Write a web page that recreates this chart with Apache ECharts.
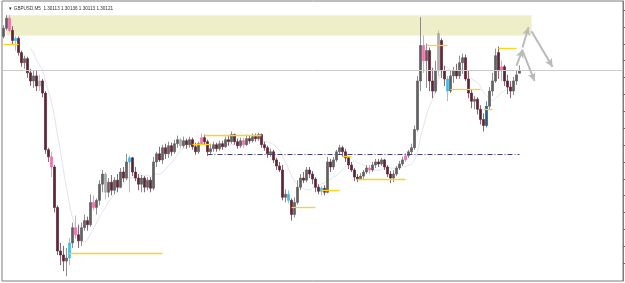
<!DOCTYPE html>
<html lang="en">
<head>
<meta charset="UTF-8">
<title>GBPUSD,M5</title>
<script src="https://cdn.jsdelivr.net/npm/echarts@6/dist/echarts.min.js"></script>
<style>
    html, body { margin: 0; padding: 0; background: #fff; }
    #chart { width: 625px; height: 283px; }
</style>
</head>
<body>
<div id="chart"></div>
<script>
    // bars: [open, close, low, high]
    var bars = [
        [1.30222,1.30246,1.30216,1.30255],[1.30246,1.30276,1.30240,1.30285],[1.30276,1.30240,1.30234,1.30285],[1.30240,1.30210,1.30198,1.30252],
        [1.30210,1.30216,1.30180,1.30222],[1.30216,1.30174,1.30165,1.30222],[1.30174,1.30144,1.30132,1.30180],[1.30144,1.30156,1.30126,1.30165],
        [1.30156,1.30114,1.30099,1.30162],[1.30114,1.30090,1.30075,1.30126],[1.30090,1.30105,1.30069,1.30120],[1.30105,1.30075,1.30060,1.30120],
        [1.30075,1.30090,1.30060,1.30108],[1.30090,1.30054,1.30042,1.30096],[1.30054,1.29886,1.29874,1.30060],[1.29886,1.29865,1.29850,1.29892],
        [1.29865,1.29835,1.29805,1.29880],[1.29835,1.29715,1.29700,1.29841],[1.29715,1.29586,1.29574,1.29721],[1.29586,1.29574,1.29544,1.29610],
        [1.29574,1.29556,1.29526,1.29601],[1.29556,1.29565,1.29511,1.29595],[1.29565,1.29610,1.29544,1.29625],[1.29610,1.29655,1.29595,1.29670],
        [1.29655,1.29634,1.29622,1.29691],[1.29634,1.29616,1.29595,1.29664],[1.29616,1.29655,1.29601,1.29670],[1.29655,1.29676,1.29646,1.29694],
        [1.29676,1.29664,1.29646,1.29688],[1.29664,1.29730,1.29658,1.29754],[1.29730,1.29715,1.29706,1.29751],[1.29715,1.29736,1.29694,1.29742],
        [1.29736,1.29784,1.29721,1.29796],[1.29784,1.29814,1.29760,1.29826],[1.29814,1.29760,1.29739,1.29820],[1.29760,1.29790,1.29745,1.29802],
        [1.29790,1.29766,1.29751,1.29811],[1.29766,1.29796,1.29754,1.29805],[1.29796,1.29775,1.29760,1.29814],[1.29775,1.29820,1.29772,1.29832],
        [1.29820,1.29802,1.29790,1.29835],[1.29802,1.29850,1.29796,1.29874],[1.29850,1.29862,1.29760,1.29868],[1.29862,1.29820,1.29808,1.29865],
        [1.29820,1.29802,1.29793,1.29835],[1.29802,1.29784,1.29766,1.29814],[1.29784,1.29802,1.29760,1.29811],[1.29802,1.29775,1.29760,1.29808],
        [1.29775,1.29796,1.29766,1.29805],[1.29796,1.29772,1.29760,1.29805],[1.29772,1.29850,1.29766,1.29865],[1.29850,1.29874,1.29835,1.29880],
        [1.29874,1.29856,1.29850,1.29895],[1.29856,1.29892,1.29844,1.29901],[1.29892,1.29874,1.29859,1.29904],[1.29874,1.29898,1.29862,1.29910],
        [1.29898,1.29880,1.29868,1.29907],[1.29880,1.29904,1.29874,1.29916],[1.29904,1.29916,1.29892,1.29928],[1.29916,1.29898,1.29889,1.29922],
        [1.29898,1.29913,1.29892,1.29925],[1.29913,1.29901,1.29889,1.29919],[1.29901,1.29916,1.29892,1.29925],[1.29916,1.29895,1.29886,1.29922],
        [1.29895,1.29880,1.29871,1.29907],[1.29880,1.29904,1.29874,1.29910],[1.29904,1.29922,1.29901,1.29934],[1.29922,1.29910,1.29901,1.29931],
        [1.29910,1.29880,1.29868,1.29916],[1.29880,1.29889,1.29871,1.29904],[1.29889,1.29901,1.29880,1.29910],[1.29901,1.29889,1.29880,1.29907],
        [1.29889,1.29904,1.29883,1.29913],[1.29904,1.29895,1.29886,1.29913],[1.29895,1.29916,1.29892,1.29925],[1.29916,1.29910,1.29898,1.29928],
        [1.29910,1.29931,1.29904,1.29940],[1.29931,1.29910,1.29901,1.29934],[1.29910,1.29898,1.29889,1.29919],[1.29898,1.29913,1.29892,1.29922],
        [1.29913,1.29901,1.29892,1.29922],[1.29901,1.29919,1.29898,1.29931],[1.29919,1.29913,1.29904,1.29928],[1.29913,1.29925,1.29907,1.29934],
        [1.29925,1.29919,1.29910,1.29934],[1.29919,1.29931,1.29913,1.29937],[1.29931,1.29901,1.29892,1.29934],[1.29901,1.29892,1.29883,1.29910],
        [1.29892,1.29874,1.29862,1.29898],[1.29874,1.29880,1.29865,1.29889],[1.29880,1.29856,1.29847,1.29886],[1.29856,1.29838,1.29826,1.29862],
        [1.29838,1.29826,1.29820,1.29850],[1.29826,1.29745,1.29736,1.29841],[1.29745,1.29754,1.29730,1.29769],[1.29754,1.29736,1.29727,1.29766],
        [1.29736,1.29694,1.29676,1.29742],[1.29694,1.29730,1.29685,1.29745],[1.29730,1.29775,1.29724,1.29796],[1.29775,1.29802,1.29766,1.29814],
        [1.29802,1.29796,1.29787,1.29820],[1.29796,1.29826,1.29790,1.29835],[1.29826,1.29814,1.29802,1.29835],[1.29814,1.29799,1.29784,1.29823],
        [1.29799,1.29775,1.29760,1.29805],[1.29775,1.29763,1.29754,1.29784],[1.29763,1.29772,1.29751,1.29778],[1.29772,1.29760,1.29751,1.29781],
        [1.29760,1.29850,1.29757,1.29865],[1.29850,1.29835,1.29820,1.29859],[1.29835,1.29856,1.29826,1.29865],[1.29856,1.29880,1.29850,1.29886],
        [1.29880,1.29892,1.29871,1.29901],[1.29892,1.29880,1.29865,1.29898],[1.29880,1.29862,1.29850,1.29889],[1.29862,1.29841,1.29829,1.29865],
        [1.29841,1.29826,1.29820,1.29850],[1.29826,1.29805,1.29793,1.29832],[1.29805,1.29799,1.29790,1.29814],[1.29799,1.29808,1.29796,1.29817],
        [1.29808,1.29820,1.29799,1.29826],[1.29820,1.29832,1.29814,1.29841],[1.29832,1.29826,1.29814,1.29841],[1.29826,1.29841,1.29820,1.29850],
        [1.29841,1.29850,1.29832,1.29859],[1.29850,1.29844,1.29835,1.29859],[1.29844,1.29856,1.29838,1.29862],[1.29856,1.29835,1.29826,1.29859],
        [1.29835,1.29814,1.29805,1.29841],[1.29814,1.29802,1.29787,1.29823],[1.29802,1.29814,1.29790,1.29826],[1.29814,1.29832,1.29808,1.29838],
        [1.29832,1.29844,1.29826,1.29853],[1.29844,1.29856,1.29838,1.29865],[1.29856,1.29868,1.29850,1.29877],[1.29868,1.29880,1.29862,1.29886],
        [1.29880,1.29892,1.29874,1.29904],[1.29892,1.29946,1.29886,1.29958],[1.29946,1.30090,1.29940,1.30105],[1.30090,1.30195,1.30060,1.30279],
        [1.30195,1.30150,1.30114,1.30225],[1.30150,1.30180,1.30069,1.30201],[1.30180,1.30090,1.30060,1.30189],[1.30090,1.30060,1.30039,1.30129],
        [1.30060,1.30120,1.30054,1.30150],[1.30120,1.30231,1.30105,1.30240],[1.30210,1.30120,1.30099,1.30216],[1.30120,1.30096,1.30075,1.30135],
        [1.30096,1.30060,1.30030,1.30105],[1.30060,1.30105,1.30054,1.30120],[1.30105,1.30120,1.30084,1.30132],[1.30120,1.30105,1.30096,1.30141],
        [1.30105,1.30144,1.30096,1.30165],[1.30144,1.30159,1.30111,1.30171],[1.30159,1.30096,1.30090,1.30168],[1.30096,1.30054,1.30039,1.30120],
        [1.30054,1.30030,1.30009,1.30066],[1.30030,1.30036,1.30006,1.30045],[1.30036,1.30006,1.29991,1.30042],[1.30006,1.29976,1.29961,1.30018],
        [1.29976,1.29958,1.29940,1.29994],[1.29958,1.30015,1.29952,1.30030],[1.30015,1.30060,1.30006,1.30072],[1.30060,1.30090,1.30045,1.30114],
        [1.30090,1.30165,1.30084,1.30186],[1.30174,1.30120,1.30096,1.30192],[1.30120,1.30132,1.30090,1.30150],[1.30132,1.30090,1.30075,1.30138],
        [1.30090,1.30072,1.30051,1.30108],[1.30072,1.30060,1.30039,1.30090],[1.30060,1.30090,1.30048,1.30102],[1.30090,1.30108,1.30078,1.30120],
        [1.30113,1.30121,1.30113,1.30136]
    ];

    // bars drawn in the indicator's highlight colours
    var pinkBars = [2, 16, 24, 30, 66, 80, 122, 134, 140, 166];
    var cyanBars = [4, 22, 42, 95, 106, 148];
    var blueBars = [161];
    var greyBars = [12, 34, 59, 145];

    // [from bar, to bar, price]
    var levels = [
        [0, 5, 1.30198], [22, 53, 1.29580], [63, 69, 1.29901], [67, 86, 1.29928],
        [96, 104, 1.29715], [106, 112, 1.29766], [113, 116, 1.29868], [118, 134, 1.29799],
        [141, 148, 1.30195], [149, 159, 1.30066], [160, 163, 1.30006], [165, 171, 1.30186]
    ];
    var pivot = [68, 172, 1.29874];
    var zone = [1, 176, 1.30285, 1.30225];
    // [from bar, from price, to bar, to price]
    var arrows = [
        [171, 1.30135, 173, 1.30183],
        [173, 1.30180, 177, 1.30090],
        [173, 1.30189, 175, 1.30249],
        [176, 1.30237, 183, 1.30132]
    ];
    var priceTicks = [1.2955, 1.2960, 1.2965, 1.2970, 1.2975, 1.2980, 1.2985, 1.2990,
        1.2995, 1.3000, 1.3005, 1.3010, 1.3015, 1.3020, 1.3025, 1.3030];
    var bid = 1.30121;
    var header = '\u25BC GBPUSD,M5  1.30113 1.30136 1.30113 1.30121';

    var slotCount = 207; // bars + empty chart shift on the right
    var slots = [];
    for (var i = 0; i < slotCount; i++) slots.push(String(i));

    var candleData = bars.map(function (b, i) {
        var c = b[1] >= b[0] ? '#606060' : '#5e2434';
        if (pinkBars.indexOf(i) >= 0) c = '#f070aa';
        else if (cyanBars.indexOf(i) >= 0) c = '#45b9e6';
        else if (blueBars.indexOf(i) >= 0) c = '#235d8a';
        else if (greyBars.indexOf(i) >= 0) c = '#ababab';
        return { value: b, itemStyle: { color: c, color0: c, borderColor: c, borderColor0: c } };
    });

    // moving average of closes
    var maPeriod = 10;
    var ma = bars.map(function (b, i) {
        if (i < maPeriod - 1) return null;
        var s = 0;
        for (var k = i - maPeriod + 1; k <= i; k++) s += bars[k][1];
        return +(s / maPeriod).toFixed(5);
    });

    var chart = echarts.init(document.getElementById('chart'), null, { renderer: 'canvas' });
    chart.setOption({
        animation: false,
        backgroundColor: '#ffffff',
        title: {
            text: header,
            left: 3, top: 1,
            textStyle: { fontSize: 4.6, fontWeight: 'normal', color: '#303030', fontFamily: 'Liberation Sans' }
        },
        grid: { left: 2, right: 2, top: 1, bottom: 2, show: true, borderColor: '#7c7c7c', borderWidth: 1, backgroundColor: 'transparent' },
        xAxis: {
            type: 'category',
            data: slots,
            boundaryGap: true,
            axisLine: { show: false },
            axisTick: { show: false },
            axisLabel: { show: false },
            splitLine: { show: false }
        },
        yAxis: {
            type: 'value',
            position: 'right',
            min: 1.29497,
            max: 1.30327,
            axisLine: { show: true, lineStyle: { color: '#7c7c7c' } },
            axisTick: { show: true, inside: false, length: 3, customValues: priceTicks, lineStyle: { color: '#6a6a6a' } },
            axisLabel: { show: false },
            splitLine: { show: false }
        },
        series: [
            {
                name: 'zone',
                type: 'line',
                data: [],
                z: 1,
                markArea: {
                    silent: true,
                    itemStyle: { color: '#eeeec9' },
                    data: [[{ coord: [zone[0], zone[2]] }, { coord: [zone[1], zone[3]] }]]
                },
                markLine: {
                    silent: true,
                    precision: 5,
                    symbol: 'none',
                    label: { show: false },
                    lineStyle: { color: '#cbcbcb', type: 'solid', width: 1 },
                    data: [{ yAxis: bid }]
                }
            },
            {
                name: 'MA',
                type: 'line',
                data: ma,
                smooth: true,
                showSymbol: false,
                z: 2,
                lineStyle: { color: '#e2e2f5', width: 1 }
            },
            {
                name: 'GBPUSD',
                type: 'candlestick',
                data: candleData,
                barWidth: 1.9,
                z: 3,
                itemStyle: { borderWidth: 0.7 }
            },
            {
                name: 'levels',
                type: 'line',
                data: [],
                z: 4,
                markLine: {
                    silent: true,
                    precision: 5,
                    symbol: 'none',
                    label: { show: false },
                    data: levels.map(function (l) {
                        return [{ coord: [l[0], l[2]], lineStyle: { color: '#ffd21e', width: 1.3, type: 'solid' } },
                                { coord: [l[1], l[2]] }];
                    }).concat([[
                        { coord: [pivot[0], pivot[2]], lineStyle: { color: '#3e3e8e', width: 1, type: [5, 2, 1, 2] } },
                        { coord: [pivot[1], pivot[2]] }
                    ]])
                }
            },
            {
                name: 'arrows',
                type: 'line',
                data: [],
                z: 5,
                markLine: {
                    silent: true,
                    precision: 5,
                    symbol: ['none', 'arrow'],
                    symbolSize: [6, 8],
                    label: { show: false },
                    lineStyle: { color: '#bababa', width: 2, type: 'solid' },
                    data: arrows.map(function (a) {
                        return [{ coord: [a[0], a[1]] }, { coord: [a[2], a[3]] }];
                    })
                }
            }
        ]
    });
</script>
</body>
</html>
